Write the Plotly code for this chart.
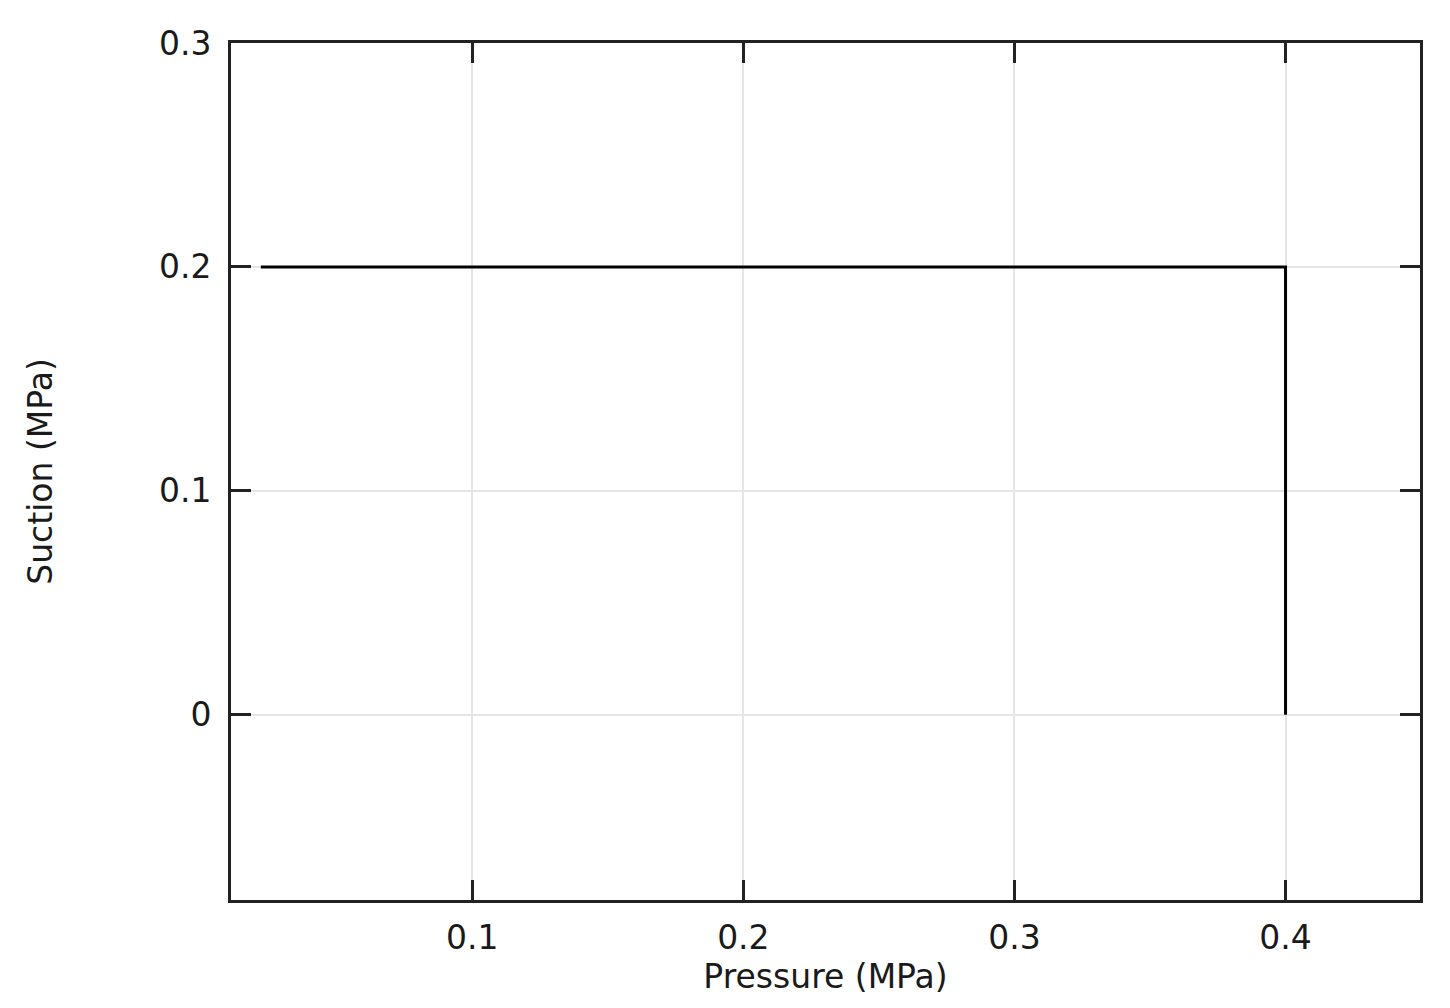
import plotly.graph_objects as go

# boundary of the region: suction vs pressure
pressure = [0.022, 0.4, 0.4]
suction = [0.2, 0.2, 0.0]

x_ticks = [0.1, 0.2, 0.3, 0.4]
y_ticks = [0, 0.1, 0.2, 0.3]

fig = go.Figure()

fig.add_trace(go.Scatter(
    x=pressure,
    y=suction,
    mode="lines",
    line=dict(color="black", width=3),
    showlegend=False,
))

axis_style = dict(
    showline=True,
    linecolor="#222222",
    linewidth=3,
    mirror="allticks",
    ticks="inside",
    ticklen=20,
    tickwidth=3,
    tickcolor="#222222",
    showgrid=True,
    gridcolor="#e6e6e6",
    gridwidth=1.5,
    zeroline=False,
    tickfont=dict(family="DejaVu Sans", size=33, color="#1a1a1a"),
    title_font=dict(family="DejaVu Sans", size=33, color="#1a1a1a"),
)

fig.update_xaxes(
    range=[0.011, 0.4496],
    tickvals=x_ticks,
    ticktext=[str(v) for v in x_ticks],
    title_text="Pressure (MPa)",
    title_standoff=0,
    ticklabelstandoff=6,
    **axis_style,
)
fig.update_yaxes(
    range=[-0.0828, 0.3],
    tickvals=y_ticks,
    ticktext=[str(v) for v in y_ticks],
    title_text="Suction (MPa)",
    title_standoff=97,
    ticklabelstandoff=10,
    **axis_style,
)

fig.update_layout(
    width=1450,
    height=1008,
    margin=dict(l=223, r=38, t=35, b=116),
    plot_bgcolor="white",
    paper_bgcolor="white",
)

fig.write_html("out.html")
